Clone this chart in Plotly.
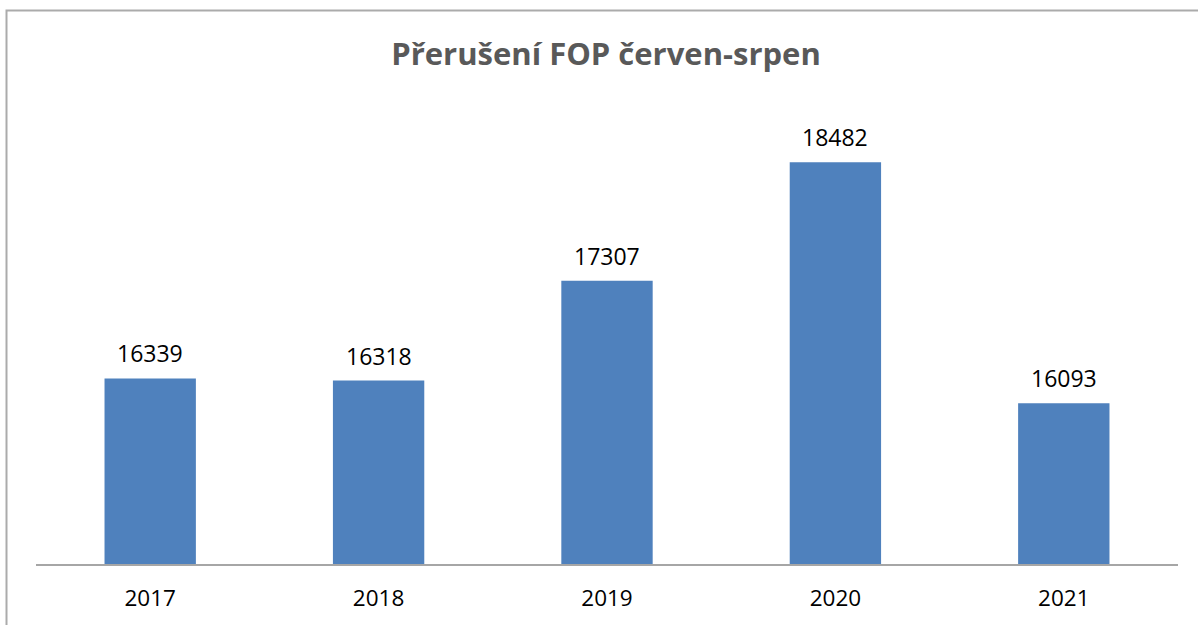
import plotly.graph_objects as go

years = ["2017", "2018", "2019", "2020", "2021"]
values = [16339, 16318, 17307, 18482, 16093]
title_text = "Přerušení FOP červen-srpen"

fig = go.Figure()
fig.add_trace(go.Bar(
    x=years, y=values,
    marker=dict(color="#4F81BD", line=dict(width=0)),
    width=0.4,
    hoverinfo="x+y",
))

# category axis: annotations positioned by category index
for i, v in enumerate(values):
    fig.add_annotation(x=i, y=v, text=str(v), showarrow=False,
                       xanchor="center", yanchor="bottom", yshift=7,
                       font=dict(family="Open Sans", size=23, color="#000000"))

fig.update_layout(
    width=1198, height=625,
    margin=dict(l=36, r=20, t=110, b=56),
    paper_bgcolor="white", plot_bgcolor="white",
    showlegend=False,
    title=dict(text="<b>" + title_text + "</b>",
               font=dict(family="Open Sans", size=31, color="#595959"),
               x=606/1198, xanchor="center", xref="container",
               y=1 - 54/625, yanchor="middle", yref="container"),
    xaxis=dict(type="category", showline=True, linecolor="#A6A6A6", linewidth=1.5,
               tickfont=dict(family="Open Sans", size=22.5, color="#000000"),
               ticks="", ticklabelstandoff=13, showgrid=False,
               range=[-0.5, len(years) - 0.5]),
    yaxis=dict(range=[14500, 19000], visible=False, showgrid=False),
    shapes=[dict(type="rect", xref="paper", yref="paper",
                 x0=(6.5 - 36) / 1142, x1=(1215 - 36) / 1142,
                 y0=(569 - 640) / 459, y1=(569 - 9.5) / 459,
                 line=dict(color="#ABABAB", width=2), fillcolor="rgba(0,0,0,0)",
                 layer="below")],
)

fig.write_html("out.html")
